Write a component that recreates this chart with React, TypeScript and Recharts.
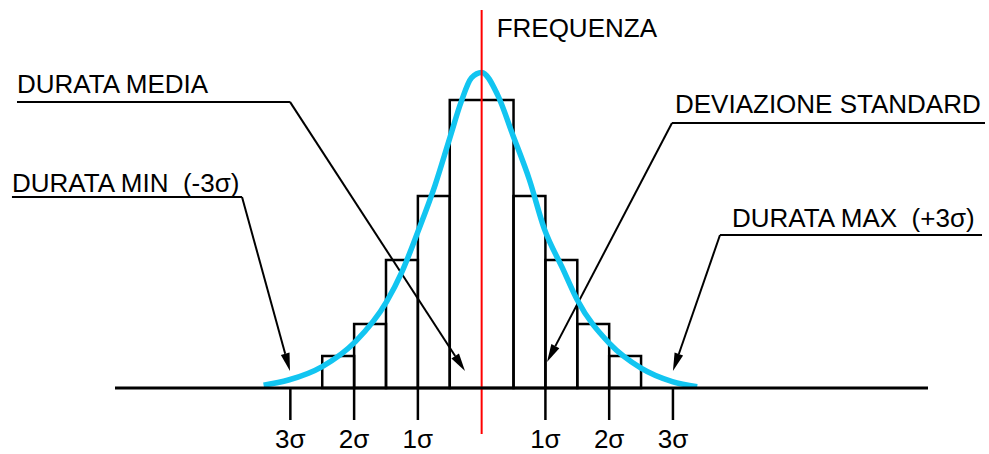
import React from "react";
import {
  ComposedChart,
  Line,
  XAxis,
  YAxis,
  ReferenceArea,
  ReferenceLine,
} from "recharts";

// histogram bins (x in sigma units, count in frequency units)
const binEdges = [-2.5, -2, -1.5, -1, -0.5, 0.5, 1, 1.5, 2, 2.5];
const binCounts = [1, 2, 4, 6, 9, 6, 4, 2, 1];

// normal curve
const curveX = [
  -3.42, -3.03, -2.5, -1.98, -1.49, -1.25, -1.0, -0.73, -0.5, -0.32, -0.16, 0,
  0.25, 0.49, 0.75, 0.98, 1.27, 1.5, 2.0, 2.5, 2.99, 3.38,
];
const curveY = [
  0.09, 0.25, 0.67, 1.45, 2.7, 3.63, 4.88, 6.34, 7.81, 8.95, 9.69, 9.86, 9.16,
  7.9, 6.5, 4.99, 3.74, 2.75, 1.4, 0.62, 0.2, 0.04,
];

const sigmaTicks = [-3, -2, -1, 1, 2, 3];
const sigmaLabels = ["3σ", "2σ", "1σ", "1σ", "2σ", "3σ"];

const curveData = curveX.map((x, i) => ({ x, y: curveY[i] }));

const FONT = "'Liberation Sans', Arial, sans-serif";
const CYAN = "#12C5F1";

// callouts: underline from `start` to `corner`, then arrow to `tip`
const callouts = [
  { label: "DURATA MEDIA", start: -7.287, corner: -3.006, y: 8.94, tipX: -0.261, tipY: 0.53, dx: 0, dy: -9 },
  { label: "DURATA MIN  (-3σ)", start: -7.366, corner: -3.758, y: 5.97, tipX: -3.006, tipY: 0.53, dx: 0, dy: -5 },
  { label: "DEVIAZIONE STANDARD", start: 7.894, corner: 2.985, y: 8.28, tipX: 1.025, tipY: 0.81, dx: 3, dy: -10 },
  { label: "DURATA MAX  (+3σ)", start: 7.847, corner: 3.738, y: 4.78, tipX: 3.0, tipY: 0.53, dx: 12, dy: -8 },
];

function Arrow(p: any) {
  const { x1, y1, x2, y2 } = p;
  const len = Math.hypot(x2 - x1, y2 - y1);
  const ux = (x2 - x1) / len;
  const uy = (y2 - y1) / len;
  const bx = x2 - ux * 18;
  const by = y2 - uy * 18;
  const px = -uy * 4.5;
  const py = ux * 4.5;
  return (
    <g>
      <line x1={x1} y1={y1} x2={bx} y2={by} stroke="#000" strokeWidth={2} />
      <polygon
        points={`${x2},${y2} ${bx + px},${by + py} ${bx - px},${by - py}`}
        fill="#000"
      />
    </g>
  );
}

const underline = (label: string, dx: number, dy: number) => (p: any) => (
  <g>
    <line x1={p.x1} y1={p.y1} x2={p.x2} y2={p.y2} stroke="#000" strokeWidth={2} />
    <text
      x={Math.min(p.x1, p.x2) + dx}
      y={p.y1 + dy}
      fontSize={26}
      fontFamily={FONT}
      fill="#000"
      style={{ whiteSpace: "pre" }}
    >
      {label}
    </text>
  </g>
);

const redLine = (p: any) => (
  <g>
    <line x1={p.x1} y1={p.y1} x2={p.x2} y2={p.y2} stroke="#ff0000" strokeWidth={2} />
    <text
      x={p.x1 + 15}
      y={Math.min(p.y1, p.y2) + 27}
      fontSize={26}
      fontFamily={FONT}
      fill="#000"
    >
      FREQUENZA
    </text>
  </g>
);

export default function App() {
  return (
    <div style={{ position: "absolute", left: 0, top: 0, background: "#fff" }}>
      <ComposedChart
        width={989}
        height={454}
        data={curveData}
        margin={{ top: 4, right: 61, bottom: 6, left: 115 }}
      >
        <XAxis
          dataKey="x"
          type="number"
          domain={[-5.75, 7]}
          allowDataOverflow
          ticks={sigmaTicks}
          interval={0}
          height={60}
          tickSize={32}
          tickMargin={10}
          tickFormatter={(v: number) => sigmaLabels[sigmaTicks.indexOf(v)]}
          axisLine={{ stroke: "#000", strokeWidth: 3 }}
          tickLine={{ stroke: "#000", strokeWidth: 2.5 }}
          tick={{ fill: "#000", fontSize: 26, fontFamily: FONT }}
        />
        <YAxis type="number" domain={[0, 12]} allowDataOverflow hide />
        {binCounts.map((c, i) => (
          <ReferenceArea
            key={i}
            x1={binEdges[i]}
            x2={binEdges[i + 1]}
            y1={0}
            y2={c}
            fill="none"
            stroke="#000"
            strokeWidth={2.5}
            ifOverflow="visible"
          />
        ))}
        {callouts.map((c) => (
          <ReferenceLine
            key={c.label + "u"}
            segment={[
              { x: c.start, y: c.y },
              { x: c.corner, y: c.y },
            ]}
            ifOverflow="visible"
            shape={underline(c.label, c.dx, c.dy)}
          />
        ))}
        {callouts.map((c) => (
          <ReferenceLine
            key={c.label + "a"}
            segment={[
              { x: c.corner, y: c.y },
              { x: c.tipX, y: c.tipY },
            ]}
            ifOverflow="visible"
            shape={Arrow}
          />
        ))}
        <Line
          dataKey="y"
          type="monotone"
          stroke={CYAN}
          strokeWidth={5.5}
          dot={false}
          activeDot={false}
          isAnimationActive={false}
        />
        <ReferenceLine
          segment={[
            { x: 0, y: -1.44 },
            { x: 0, y: 11.81 },
          ]}
          ifOverflow="visible"
          shape={redLine}
        />
      </ComposedChart>
    </div>
  );
}
